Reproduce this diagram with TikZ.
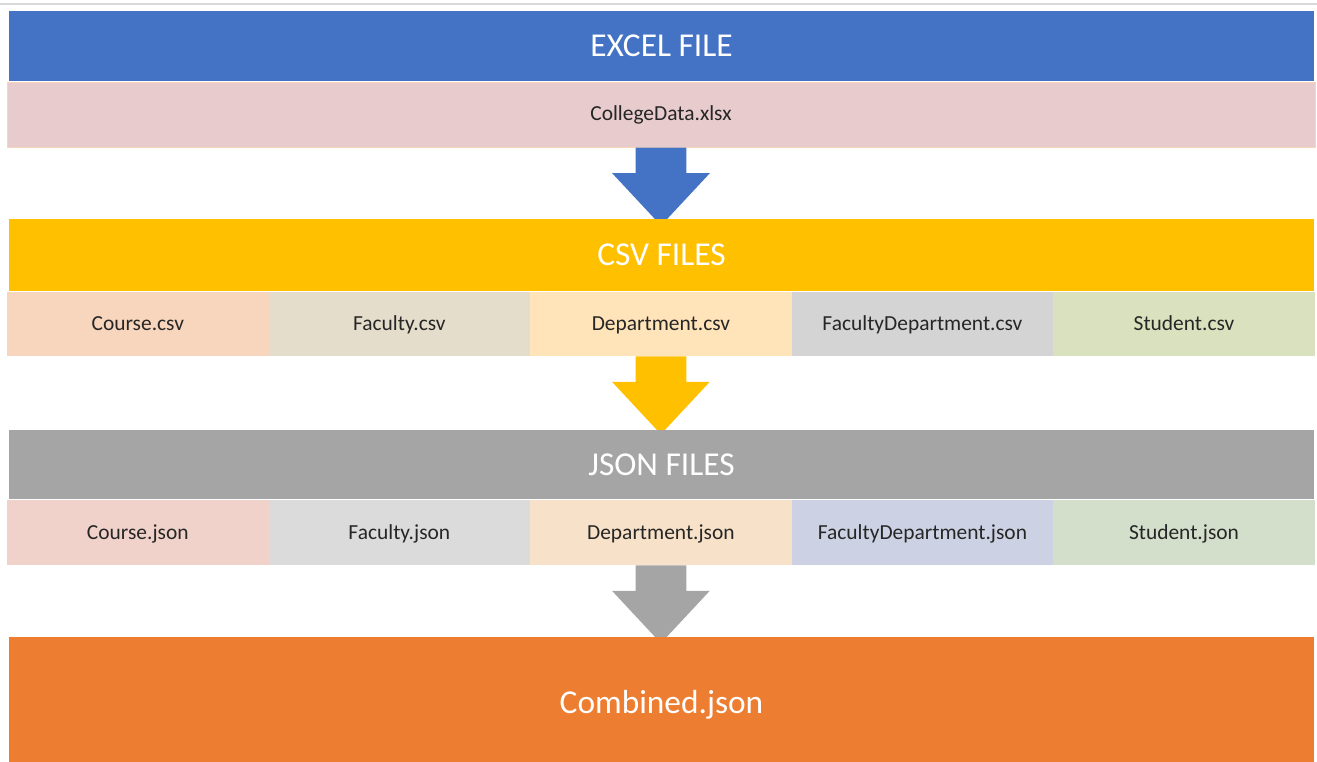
\documentclass[tikz,border=0pt]{standalone}
\usepackage{fontspec}
\setmainfont{Carlito}
\usetikzlibrary{positioning,shapes.arrows}

\definecolor{xlblue}{HTML}{4472C4}
\definecolor{xlpink}{HTML}{E8CBCC}
\definecolor{csvgold}{HTML}{FFC000}
\definecolor{jsongray}{HTML}{A5A5A5}
\definecolor{outorange}{HTML}{ED7D31}
\definecolor{csvA}{HTML}{F8D6BD}
\definecolor{csvB}{HTML}{E4DDCB}
\definecolor{csvC}{HTML}{FFE3B9}
\definecolor{csvD}{HTML}{D4D4D4}
\definecolor{csvE}{HTML}{DAE1BE}
\definecolor{jsonA}{HTML}{F0D2CA}
\definecolor{jsonB}{HTML}{DBDBDB}
\definecolor{jsonC}{HTML}{F7E1C8}
\definecolor{jsonD}{HTML}{CCD2E3}
\definecolor{jsonE}{HTML}{D3DECB}

\begin{document}
\begin{tikzpicture}[x=0.02cm,y=-0.02cm,
	band/.style={rectangle, inner sep=0pt, minimum width=26.1cm, text=white, font=\fontsize{19}{23}\selectfont},
	filerow/.style={rectangle, inner sep=0pt, minimum width=26.16cm, minimum height=1.3cm, text=black!85, font=\fontsize{12.2}{15}\selectfont},
	cell/.style={rectangle, inner sep=0pt, outer sep=0pt, minimum width=5.232cm, text=black!85, text height=1.8ex, text depth=.2ex, font=\fontsize{12.2}{15}\selectfont},
	flowarrow/.style={single arrow, shape border rotate=270, draw=none, inner sep=0.5cm,
		minimum height=1.46cm, minimum width=1.94cm, single arrow head extend=0.47cm, single arrow tip angle=86, anchor=tail}]
\useasboundingbox (0,0) rectangle (1317,761);
\draw[line width=0.04cm, black!15] (0,3.5) -- (1317,3.5);

% excel stage
\node [band, fill=xlblue, minimum height=1.4cm] (excel) at (661.5,46) {EXCEL FILE};
\node [filerow, fill=xlpink, draw=csvA] (xlsx) at (661,114.5) {CollegeData.xlsx};
\node [flowarrow, fill=xlblue] (toCsv) at (xlsx.south) {};

% csv stage
\node [band, fill=csvgold, minimum height=1.44cm] (csv) at (661.5,255) {CSV FILES};
\node [cell, fill=csvA, minimum height=1.28cm] (c1) at (137.8,324) {Course.csv};
\node [cell, fill=csvB, minimum height=1.28cm, right=0pt of c1] (c2) {Faculty.csv};
\node [cell, fill=csvC, minimum height=1.28cm, right=0pt of c2] (c3) {Department.csv};
\node [cell, fill=csvD, minimum height=1.28cm, right=0pt of c3] (c4) {FacultyDepartment.csv};
\node [cell, fill=csvE, minimum height=1.28cm, right=0pt of c4] (c5) {Student.csv};
\node [flowarrow, fill=csvgold] (toJson) at (c3.south) {};

% json stage
\node [band, fill=jsongray, minimum height=1.38cm] (json) at (661.5,464.5) {JSON FILES};
\node [cell, fill=jsonA, minimum height=1.3cm] (j1) at (137.8,532.5) {Course.json};
\node [cell, fill=jsonB, minimum height=1.3cm, right=0pt of j1] (j2) {Faculty.json};
\node [cell, fill=jsonC, minimum height=1.3cm, right=0pt of j2] (j3) {Department.json};
\node [cell, fill=jsonD, minimum height=1.3cm, right=0pt of j3] (j4) {FacultyDepartment.json};
\node [cell, fill=jsonE, minimum height=1.3cm, right=0pt of j4] (j5) {Student.json};
\node [flowarrow, fill=jsongray] (toOut) at (j3.south) {};

% combined output
\node [band, fill=outorange, minimum height=2.72cm] (combined) at (661.5,705) {Combined.json};
\end{tikzpicture}
\end{document}
